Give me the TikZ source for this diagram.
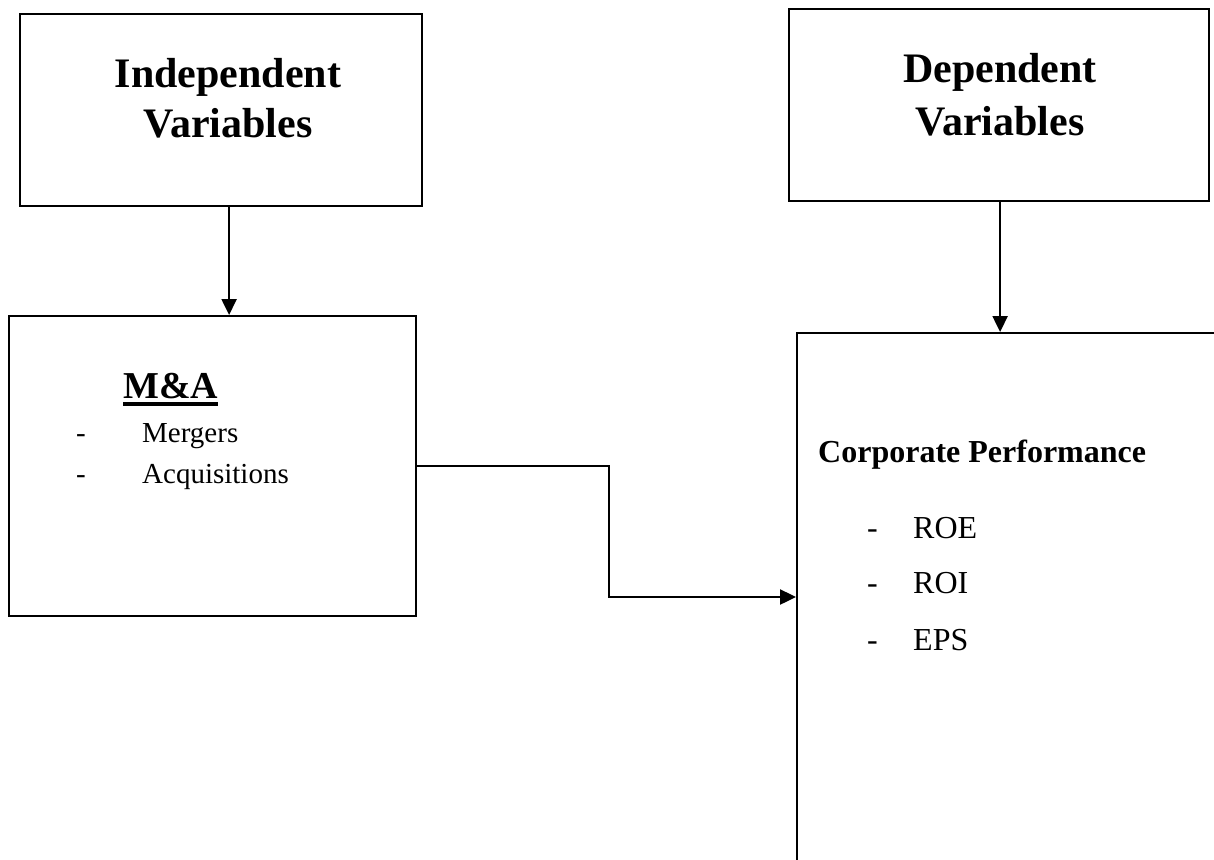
\documentclass[tikz,border=0pt]{standalone}
\usepackage{fontspec}
\setmainfont{Liberation Serif}
\usetikzlibrary{arrows.meta}

\begin{document}
\begin{tikzpicture}[x=1pt, y=-1pt,
    box/.style={draw, line width=2.2pt, anchor=north west, inner sep=0pt},
    arr/.style={line width=2.4pt, -{Triangle[length=16pt, width=15pt]}},
    head/.style={inner sep=0pt, anchor=base, font=\fontsize{42}{50}\selectfont\bfseries},
    txt/.style={inner sep=0pt, anchor=base west}]
                \path[use as bounding box] (0,0) rectangle (1214,859);
                \clip (0,0) rectangle (1214,859);
                % boxes
                \node[box, minimum width=402pt, minimum height=192pt] (iv) at (19,13) {};
                \node[box, minimum width=407pt, minimum height=300pt] (ma) at (8,315) {};
                \node[box, minimum width=420pt, minimum height=192pt] (dv) at (788,8) {};
                \node[box, minimum width=500pt, minimum height=600pt] (cp) at (796,332) {};
                % headings
                \node[head] (iv1) at (228,87) {Independent};
                \node[head] (iv2) at (228,137) {Variables};
                \node[head] (dv1) at (1000,82) {Dependent};
                \node[head] (dv2) at (1000,135) {Variables};
                % left list
                \node[txt, font=\fontsize{38}{44}\selectfont\bfseries] (mat) at (123,398) {M\&A};
                \draw[line width=3.5pt] ([yshift=-6pt]mat.base west) -- ([yshift=-6pt]mat.base east);
                \node[txt, font=\fontsize{29}{35}\selectfont] (d1) at (76,442) {-};
                \node[txt, font=\fontsize{29}{35}\selectfont] (m1) at (142,442) {Mergers};
                \node[txt, font=\fontsize{29}{35}\selectfont] (d2) at (76,483) {-};
                \node[txt, font=\fontsize{29}{35}\selectfont] (m2) at (142,483) {Acquisitions};
                % right list
                \node[txt, font=\fontsize{32}{38}\selectfont\bfseries] (cpt) at (818,462) {Corporate Performance};
                \node[txt, font=\fontsize{32}{38}\selectfont] (d3) at (867,538) {-};
                \node[txt, font=\fontsize{32}{38}\selectfont] (r1) at (913,538) {ROE};
                \node[txt, font=\fontsize{32}{38}\selectfont] (d4) at (867,593) {-};
                \node[txt, font=\fontsize{32}{38}\selectfont] (r2) at (913,593) {ROI};
                \node[txt, font=\fontsize{32}{38}\selectfont] (d5) at (867,650) {-};
                \node[txt, font=\fontsize{32}{38}\selectfont] (r3) at (913,650) {EPS};
                % connectors
                \draw[arr] ([xshift=8pt]iv.south) -- ([xshift=8pt]iv.south |- ma.north);
                \draw[arr] ([xshift=1pt]dv.south) -- ([xshift=1pt]dv.south |- cp.north west);
                \draw[arr] (ma.east) -- ++(192,0) |- ([yshift=-265pt]cp.north west);
\end{tikzpicture}
\end{document}
